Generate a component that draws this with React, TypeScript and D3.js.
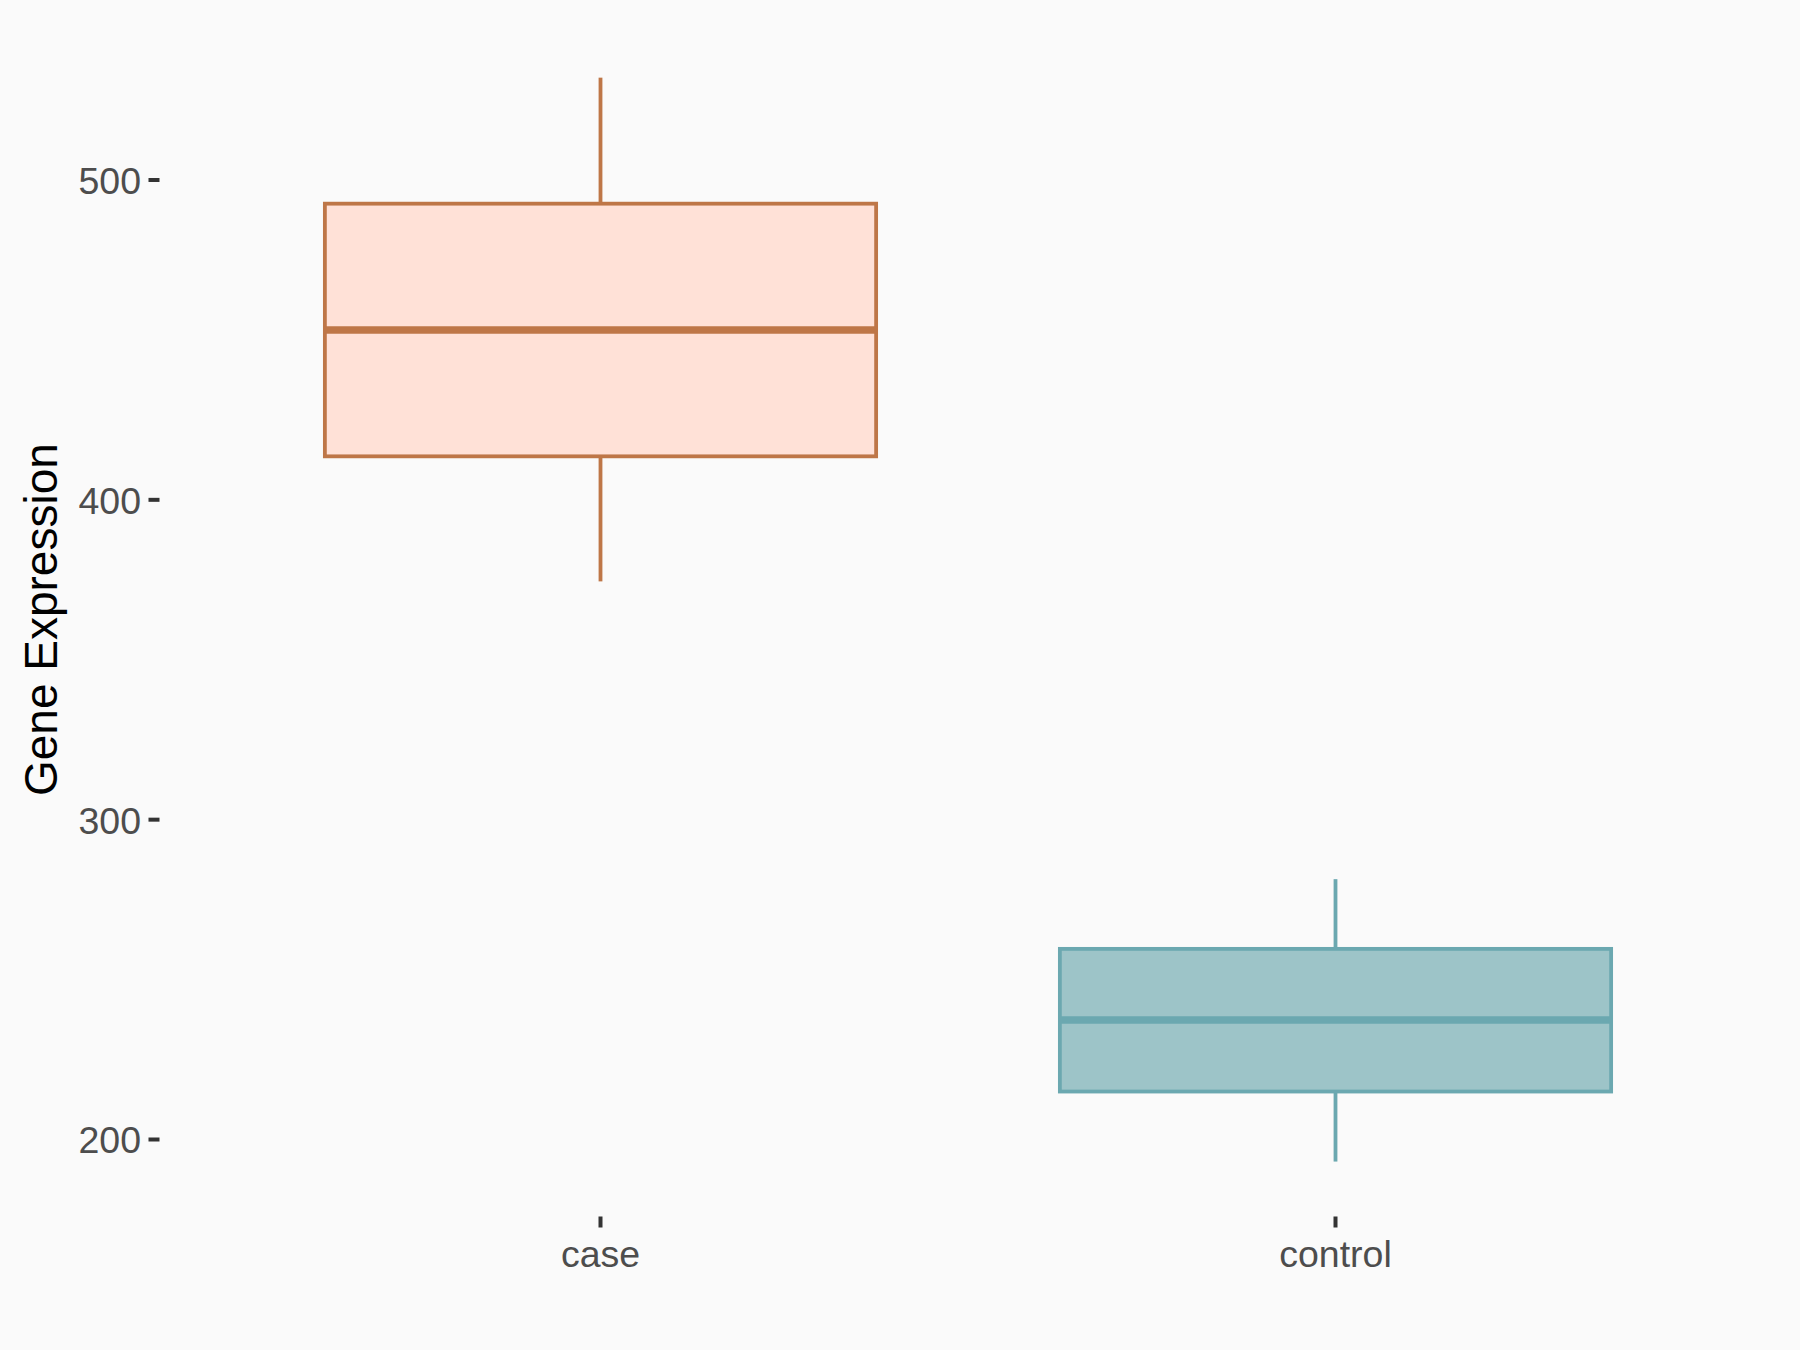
import React from "react";
import * as d3 from "d3";

const categories = ["case", "control"];
const whiskerLow = [374.5, 193.1];
const q1 = [413.6, 215.0];
const median = [453.1, 237.4];
const q3 = [492.6, 259.6];
const whiskerHigh = [532.0, 281.4];
const yTicks = [200, 300, 400, 500];
const strokeColors = ["#BE7647", "#6BA8B0"];
const fillColors = ["#FFE1D7", "#9DC4C8"];

const W = 1800;
const H = 1350;
const panelLeft = 159.5;
const panelRight = 1776.5;
const panelBottom = 1216.5;

export default function App() {
  // ggplot discrete: positions 1,2 with limits 0.4..2.6
  const xPos = d3.scaleLinear().domain([0.4, 2.6]).range([panelLeft, panelRight]);
  const y = d3.scaleLinear().domain([200, 500]).range([1139.5, 180]);
  const boxW = xPos(1.375) - xPos(0.625);
  const lw = 3.8;
  const font = "'Liberation Sans', Arial, sans-serif";
  return (
    <svg width={W} height={H} style={{ display: "block", position: "absolute", left: 0, top: 0 }}>
      <rect x={0} y={0} width={W} height={H} fill="#FAFAFA" />
      {yTicks.map((t) => (
        <g key={t}>
          <line x1={148.5} x2={159.5} y1={y(t)} y2={y(t)} stroke="#333333" strokeWidth={4} />
          <text
            x={141}
            y={y(t)}
            dy="0.37em"
            textAnchor="end"
            fontFamily={font}
            fontSize={37.5}
            fill="#4D4D4D"
          >
            {t}
          </text>
        </g>
      ))}
      {categories.map((c, i) => {
        const cx = xPos(i + 1);
        return (
          <g key={c}>
            <line x1={cx} x2={cx} y1={panelBottom} y2={panelBottom + 11} stroke="#333333" strokeWidth={4} />
            <text x={cx} y={1267} textAnchor="middle" fontFamily={font} fontSize={37.5} fill="#4D4D4D">
              {c}
            </text>
          </g>
        );
      })}
      {categories.map((c, i) => {
        const cx = xPos(i + 1);
        return (
          <g key={"box" + c}>
            <line x1={cx} x2={cx} y1={y(whiskerHigh[i])} y2={y(q3[i])} stroke={strokeColors[i]} strokeWidth={lw} />
            <line x1={cx} x2={cx} y1={y(q1[i])} y2={y(whiskerLow[i])} stroke={strokeColors[i]} strokeWidth={lw} />
            <rect
              x={cx - boxW / 2}
              y={y(q3[i])}
              width={boxW}
              height={y(q1[i]) - y(q3[i])}
              fill={fillColors[i]}
              stroke={strokeColors[i]}
              strokeWidth={lw}
            />
            <line
              x1={cx - boxW / 2}
              x2={cx + boxW / 2}
              y1={y(median[i])}
              y2={y(median[i])}
              stroke={strokeColors[i]}
              strokeWidth={7.5}
            />
          </g>
        );
      })}
      <text
        transform={`translate(57,${(22.7 + panelBottom) / 2}) rotate(-90)`}
        textAnchor="middle"
        fontFamily={font}
        fontSize={46}
        fill="#000000"
      >
        Gene Expression
      </text>
    </svg>
  );
}
